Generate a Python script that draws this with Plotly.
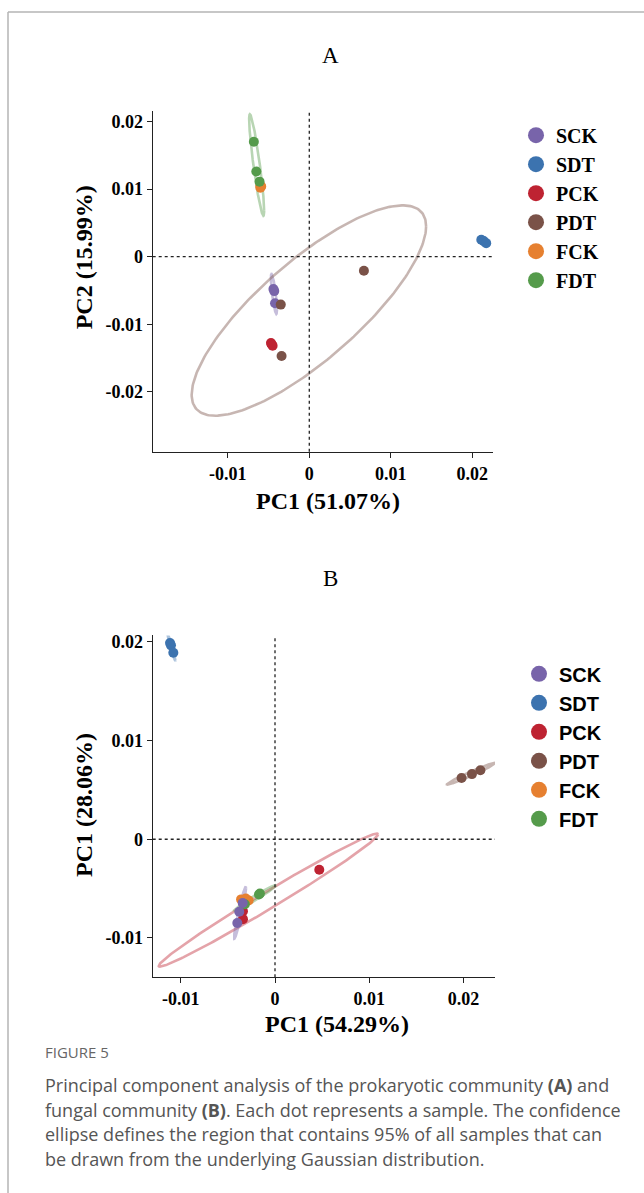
import numpy as np
import plotly.graph_objects as go

# ---------------- data ----------------
groups = ["SCK", "SDT", "PCK", "PDT", "FCK", "FDT"]
group_colors = ["#7864aa", "#3c73af", "#be2332", "#7a5248", "#e68030", "#559b4b"]

# Panel A (prokaryotic community)
a_group = ["SCK", "SCK", "SCK", "SDT", "SDT", "SDT", "PCK", "PCK", "PCK",
           "PDT", "PDT", "PDT", "FCK", "FCK", "FCK", "FDT", "FDT", "FDT"]
a_pc1 = [-0.0044, -0.0043, -0.0042, 0.0211, 0.0214, 0.0217, -0.0047, -0.0046, -0.0045,
         -0.0035, 0.0067, -0.0034, -0.0060, -0.0060, -0.0059, -0.0068, -0.0065, -0.0061]
a_pc2 = [-0.0048, -0.0051, -0.0069, 0.0025, 0.0023, 0.0020, -0.0128, -0.0130, -0.0132,
         -0.0071, -0.0021, -0.0147, 0.0105, 0.0102, 0.0104, 0.0170, 0.0126, 0.0111]
a_ell_group = ["SCK", "PDT", "FDT"]
a_ell_cx = [-0.00434, -0.00005, -0.00646]
a_ell_cy = [-0.00552, -0.00798, 0.01357]
a_ell_hx = [0.00037, 0.01438, 0.00092]
a_ell_hy = [0.00296, 0.01557, 0.00751]
a_ell_r = [-0.80, 0.80, -0.90]

# Panel B (fungal community)
b_group = ["SDT", "SDT", "SDT", "PDT", "PDT", "PDT", "PCK", "PCK", "PCK",
           "FCK", "FCK", "FCK", "FDT", "FDT", "FDT", "SCK", "SCK", "SCK"]
b_pc1 = [-0.01114, -0.01104, -0.01079, 0.0198, 0.0209, 0.0218, -0.0034, -0.0034, 0.0047,
         -0.0036, -0.0028, -0.0031, -0.0017, -0.0016, -0.0032, -0.00343, -0.00379, -0.00400]
b_pc2 = [0.01989, 0.01965, 0.01891, 0.0062, 0.0066, 0.0070, -0.0073, -0.0081, -0.0031,
         -0.0061, -0.0062, -0.0060, -0.0056, -0.0055, -0.0066, -0.00647, -0.00735, -0.00849]
b_ell_group = ["PCK", "SDT", "PDT", "FCK", "FDT", "SCK"]
b_ell_cx = [-0.0007, -0.01098, 0.0208, -0.0031, -0.00212, -0.00371]
b_ell_cy = [-0.00617, 0.01941, 0.00664, -0.0062, -0.00595, -0.00745]
b_ell_hx = [0.01164, 0.00041, 0.00255, 0.0006, 0.00223, 0.00064]
b_ell_hy = [0.00674, 0.00135, 0.0011, 0.0002, 0.0013, 0.00264]
b_ell_r = [0.989, -0.97, 0.98, 0.3, 0.98, 0.95]

a_xtickvals = [-0.01, 0, 0.01, 0.02]
a_xticktext = ["-0.01", "0", "0.01", "0.02"]
a_ytickvals = [-0.02, -0.01, 0, 0.01, 0.02]
a_yticktext = ["-0.02", "-0.01", "0", "0.01", "0.02"]
b_xtickvals = [-0.01, 0, 0.01, 0.02]
b_xticktext = ["-0.01", "0", "0.01", "0.02"]
b_ytickvals = [-0.01, 0, 0.01, 0.02]
b_yticktext = ["-0.01", "0", "0.01", "0.02"]

a_xtitle = "PC1 (51.07%)"
a_ytitle = "PC2 (15.99%)"
b_xtitle = "PC1 (54.29%)"
b_ytitle = "PC1 (28.06%)"

fig_label = "FIGURE 5"
caption_lines = [
    "Principal component analysis of the prokaryotic community <b>(A)</b> and",
    "fungal community <b>(B)</b>. Each dot represents a sample. The confidence",
    "ellipse defines the region that contains 95% of all samples that can",
    "be drawn from the underlying Gaussian distribution.",
]

# ---------------- helpers ----------------
W, H = 644, 1193
color_of = dict(zip(groups, group_colors))


def rgba(hexc, a):
    h = hexc.lstrip("#")
    return "rgba(%d,%d,%d,%.2f)" % (int(h[0:2], 16), int(h[2:4], 16), int(h[4:6], 16), a)


def ellipse_xy(cx, cy, hx, hy, r):
    t = np.linspace(0, 2 * np.pi, 241)
    s = np.sqrt(1 - r * r)
    return cx + hx * np.cos(t), cy + hy * (r * np.cos(t) + s * np.sin(t))


def px_x(p):
    return p / W


def px_y(p):
    return 1 - p / H


SERIF = "Liberation Serif"
SANS = "Liberation Sans"

fig = go.Figure()


def add_panel(xa, ya, grp, xs, ys, eg, ecx, ecy, ehx, ehy, er, order, legend_name):
    for g, cx, cy, hx, hy, r in zip(eg, ecx, ecy, ehx, ehy, er):
        ex, ey = ellipse_xy(cx, cy, hx, hy, r)
        fig.add_trace(go.Scatter(x=ex, y=ey, mode="lines", xaxis=xa, yaxis=ya,
                                 line=dict(color=rgba(color_of[g], 0.42), width=2.6),
                                 showlegend=False, hoverinfo="skip"))
    for g in order:
        xv = [x for x, gg in zip(xs, grp) if gg == g]
        yv = [y for y, gg in zip(ys, grp) if gg == g]
        fig.add_trace(go.Scatter(x=xv, y=yv, mode="markers", xaxis=xa, yaxis=ya, name=g,
                                 marker=dict(size=10, color=color_of[g]),
                                 showlegend=False))
    for g in groups:
        fig.add_trace(go.Scatter(x=[None], y=[None], mode="markers", xaxis=xa, yaxis=ya,
                                 name=g, marker=dict(size=19, color=color_of[g]),
                                 showlegend=True, legend=legend_name))


add_panel("x", "y", a_group, a_pc1, a_pc2, a_ell_group, a_ell_cx, a_ell_cy,
          a_ell_hx, a_ell_hy, a_ell_r, groups, "legend")
add_panel("x2", "y2", b_group, b_pc1, b_pc2, b_ell_group, b_ell_cx, b_ell_cy,
          b_ell_hx, b_ell_hy, b_ell_r, ["SDT", "PDT", "PCK", "FCK", "FDT", "SCK"], "legend2")

axis_common = dict(showline=True, linecolor="#222", linewidth=1.4, ticks="outside",
                   ticklen=5, tickwidth=1.3, tickcolor="#222", showgrid=False,
                   zeroline=False, tickfont=dict(family=SERIF, size=18, color="#000", weight="bold"))

fig.update_layout(
    width=W, height=H, margin=dict(l=0, r=0, t=0, b=0),
    paper_bgcolor="white", plot_bgcolor="white",
    xaxis=dict(domain=[px_x(152.7), px_x(492.7)], range=[-0.01921, 0.0225], anchor="y",
               tickvals=a_xtickvals, ticktext=a_xticktext, **axis_common),
    yaxis=dict(domain=[px_y(450), px_y(108)], range=[-0.0289, 0.0216], anchor="x",
               tickvals=a_ytickvals, ticktext=a_yticktext, **axis_common),
    xaxis2=dict(domain=[px_x(152.7), px_x(495)], range=[-0.01298, 0.02335], anchor="y2",
                tickvals=b_xtickvals, ticktext=b_xticktext, **axis_common),
    yaxis2=dict(domain=[px_y(976.7), px_y(634)], range=[-0.01399, 0.02066], anchor="x2",
                tickvals=b_ytickvals, ticktext=b_yticktext, **axis_common),
    legend=dict(x=px_x(516), y=px_y(113), xanchor="left", yanchor="top",
                font=dict(family=SERIF, size=20, color="#000", weight="bold"),
                bgcolor="rgba(0,0,0,0)", itemsizing="trace"),
    legend2=dict(x=px_x(519), y=px_y(653), xanchor="left", yanchor="top",
                 font=dict(family=SANS, size=20, color="#000", weight="bold"),
                 bgcolor="rgba(0,0,0,0)", itemsizing="trace"),
    showlegend=True,
)

# zero reference lines
for xr, yr in [("x", "y"), ("x2", "y2")]:
    fig.add_shape(type="line", xref=xr, yref=yr + " domain", x0=0, x1=0, y0=0, y1=1,
                  line=dict(color="#222", width=1.3, dash="dot"))
    fig.add_shape(type="line", xref=xr + " domain", yref=yr, x0=0, x1=1, y0=0, y1=0,
                  line=dict(color="#222", width=1.3, dash="dot"))

# page frame
fig.add_shape(type="line", xref="paper", yref="paper", x0=px_x(8), x1=1, y0=px_y(9), y1=px_y(9),
              line=dict(color="#b5b5b5", width=1.5))
fig.add_shape(type="line", xref="paper", yref="paper", x0=px_x(8), x1=px_x(8), y0=0, y1=px_y(9),
              line=dict(color="#b5b5b5", width=1.5))

ann = []
# panel letters
ann.append(dict(text="A", x=px_x(330), y=px_y(53), font=dict(family=SERIF, size=23, color="#000")))
ann.append(dict(text="B", x=px_x(330), y=px_y(577), font=dict(family=SERIF, size=23, color="#000")))
# axis titles
tfont = dict(family=SERIF, size=24, color="#000", weight="bold")
ann.append(dict(text=a_xtitle, x=px_x(328), y=px_y(499), font=tfont))
ann.append(dict(text=a_ytitle, x=px_x(84), y=px_y(255), font=tfont, textangle=-90))
ann.append(dict(text=b_xtitle, x=px_x(337), y=px_y(1024), font=tfont))
ann.append(dict(text=b_ytitle, x=px_x(84), y=px_y(804), font=tfont, textangle=-90))
for a in ann:
    a.update(xref="paper", yref="paper", showarrow=False, xanchor="center", yanchor="middle")

# caption
ann.append(dict(text=fig_label, x=px_x(43), y=px_y(1052), xref="paper", yref="paper",
                showarrow=False, xanchor="left", yanchor="middle",
                font=dict(family="Open Sans", size=15, color="#666")))
for i, line in enumerate(caption_lines):
    ann.append(dict(text=line, x=px_x(43), y=px_y(1085 + 24.5 * i), xref="paper", yref="paper",
                    showarrow=False, xanchor="left", yanchor="middle",
                    font=dict(family="Open Sans", size=18, color="#555")))

fig.update_layout(annotations=ann)
fig.write_html("out.html")
